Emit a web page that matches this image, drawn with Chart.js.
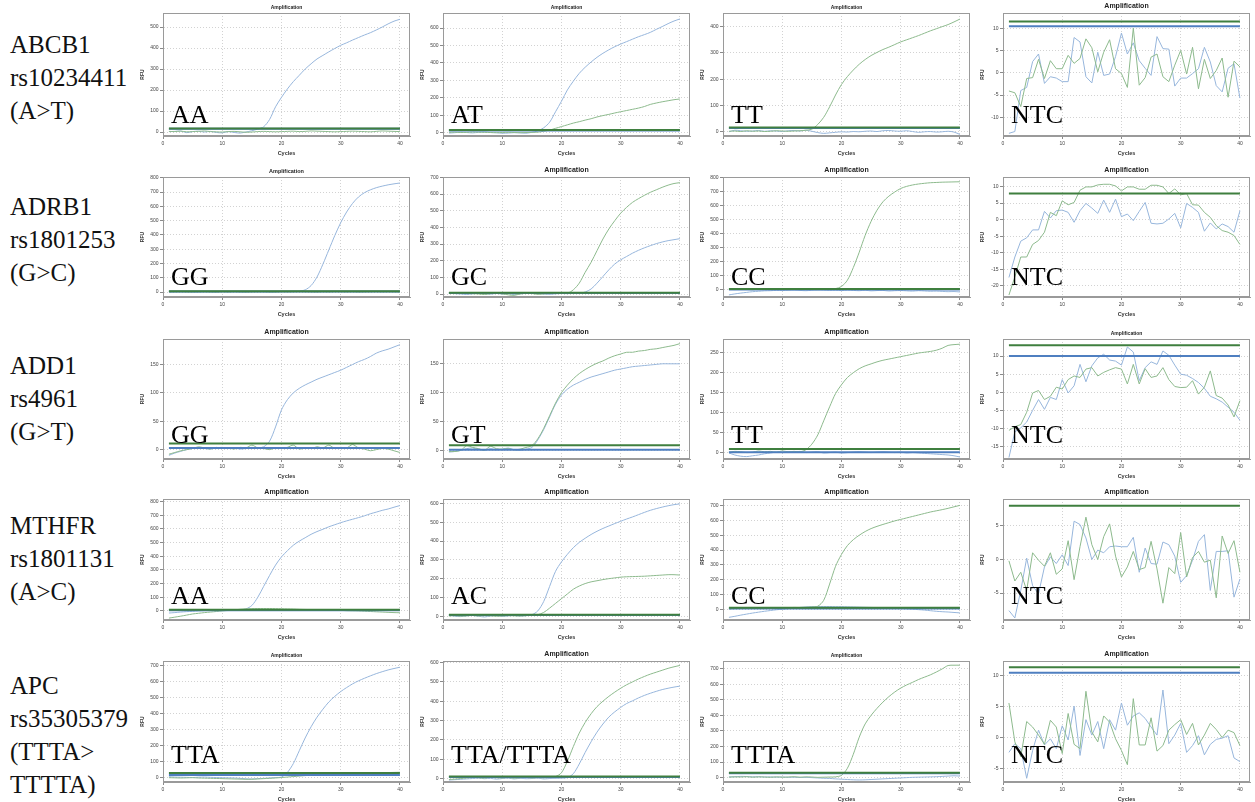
<!DOCTYPE html>
<html lang="en">
<head>
<meta charset="UTF-8">
<title>Amplification curves</title>
<script src="https://cdn.jsdelivr.net/npm/chart.js"></script>
<style>
  body {
    margin: 0;
    width: 1255px;
    height: 802px;
    position: relative;
    overflow: hidden;
    background: #fff;
  }
  canvas { position: absolute; }
  .gene {
    position: absolute;
    left: 10px;
    font-family: 'Liberation Serif', 'Times New Roman', serif;
    font-size: 25px;
    line-height: 33px;
    color: #111;
    white-space: nowrap;
  }
  .geno {
    position: absolute;
    font-family: 'Liberation Serif', 'Times New Roman', serif;
    font-size: 26px;
    line-height: 26px;
    color: #000;
    white-space: nowrap;
  }
</style>
</head>
<body>
<script>
// ---- data ----
const CYCLES = [1,2,3,4,5,6,7,8,9,10,11,12,13,14,15,16,17,18,19,20,21,22,23,24,25,26,27,28,29,30,31,32,33,34,35,36,37,38,39,40];
const X_TICKS = [0,10,20,30,40];

const GENES = [
  ['ABCB1', 'rs10234411', '(A>T)'],
  ['ADRB1', 'rs1801253', '(G>C)'],
  ['ADD1', 'rs4961', '(G>T)'],
  ['MTHFR', 'rs1801131', '(A>C)'],
  ['APC', 'rs35305379', '(TTTA>', 'TTTTA)']
];
const GENOTYPES = [
  'AA', 'AT', 'TT', 'NTC',
  'GG', 'GC', 'CC', 'NTC',
  'GG', 'GT', 'TT', 'NTC',
  'AA', 'AC', 'CC', 'NTC',
  'TTA', 'TTA/TTTA', 'TTTA', 'NTC'
];

// threshold lines (RFU), one per panel
const THRESHOLD_GREEN = [17, 15, 16, 11.5,  5, 8, 8, 7.9,  10.6, 9, 10, 13,  8, 10, 10, 8,  31, 10, 32, 11.4];
const THRESHOLD_BLUE  = [15, 13, 14, 10.45, 3, 6, 3, null, 3, 1, 2, 10,     5, 8, 5, null,  18, 8, 28, 10.5];

// y tick sets
const TICKS_400 = [0,100,200,300,400];
const TICKS_500 = [0,100,200,300,400,500];
const TICKS_600 = [0,100,200,300,400,500,600];
const TICKS_700 = [0,100,200,300,400,500,600,700];
const TICKS_800 = [0,100,200,300,400,500,600,700,800];
const TICKS_150 = [0,50,100,150];
const TICKS_250 = [0,50,100,150,200,250];
const TICKS_NTC_A = [-10,-5,0,5,10];
const TICKS_NTC_B = [-20,-15,-10,-5,0,5,10];
const TICKS_NTC_C = [-15,-10,-5,0,5,10];
const TICKS_NTC_D = [-5,0,5];
const TICKS_NTC_E = [-5,0,5,10];

// ABCB1
const abcb1AA_blue  = [2,3,5,-3,2,4,0,3,-2,-4,2,-2,-5,0,6,14,25,60,120,165,205,240,270,300,325,348,365,382,398,413,425,438,450,462,473,486,500,515,528,537];
const abcb1AA_green = [3,2,4,1,2,3,5,2,1,0,2,3,1,-1,0,2,3,2,1,2,3,4,2,3,5,4,3,2,1,2,3,4,3,2,1,3,5,4,3,2];
const abcb1AT_blue  = [-2,0,3,1,-1,2,4,1,0,-3,-2,0,-1,-3,2,10,28,60,120,180,245,295,340,375,405,432,455,475,493,508,522,536,550,562,575,592,608,625,640,652];
const abcb1AT_green = [2,3,1,2,4,3,2,1,0,1,2,1,0,1,2,3,8,15,25,35,45,55,63,72,80,90,98,105,113,120,127,134,141,150,162,170,177,183,189,193];
const abcb1TT_blue  = [0,6,4,2,3,5,2,4,3,1,4,5,3,6,2,-3,-6,-4,-2,0,-1,1,0,2,3,1,4,5,3,2,4,1,-2,0,1,-1,0,2,-1,-10];
const abcb1TT_green = [2,3,1,4,2,3,1,2,4,3,2,3,4,6,10,28,55,95,140,180,210,235,257,275,290,302,313,322,332,342,350,358,366,375,384,392,400,408,418,429];
const abcb1NTC_blue  = [-13.6,-13.2,-4.0,-3.3,2.5,4.2,-2.4,-0.9,-1.2,-2.0,-2.0,7.9,6.9,-0.9,-2.3,4.6,-0.6,-0.3,3.6,8.9,4.2,6.7,2.7,1.0,-0.6,8.1,5.4,5.3,-3.0,-1.2,-1.2,-0.2,0.9,5.7,2.4,-2.9,-4.3,1.0,2.0,-5.7];
const abcb1NTC_green = [-4.1,-4.5,-7.6,-1.3,-1.1,3.0,-1.3,2.7,0.9,0.9,3.9,2.1,3.2,7.6,5.6,0.2,4.6,7.4,0.9,-0.2,-3.3,10,-2.8,-1.1,3.5,4.2,-0.9,-2.0,1.7,5.0,-0.3,5.7,-3.6,3.0,-1.3,0.5,3.3,-5.5,2.6,1.3];

// ADRB1
const adrb1GG_blue  = [0,2,1,3,0,-1,2,1,0,3,1,2,0,1,3,2,1,0,2,3,4,5,5,15,45,105,195,295,395,485,560,620,665,695,715,730,741,750,757,763];
const adrb1GG_green = [2,1,3,0,1,3,2,1,0,2,1,3,2,0,1,2,3,1,0,2,1,2,3,2,1,0,2,1,3,2,1,2,0,1,2,3,1,2,1,0];
const adrb1GC_blue  = [8,2,0,-3,1,4,2,-1,3,0,2,-4,1,3,5,2,0,-2,1,3,2,4,4,12,30,65,105,145,180,205,225,245,262,277,290,302,312,320,326,332];
const adrb1GC_green = [5,4,6,3,2,0,-3,2,4,1,-5,-8,0,5,3,-2,1,3,6,8,5,25,65,130,190,260,330,390,440,485,520,550,572,592,610,625,640,653,663,668];
const adrb1CC_blue  = [-35,-28,-22,-17,-12,-9,-6,-5,-3,-4,-2,-1,-3,-5,-2,0,-1,-3,-2,-4,-1,-3,-5,-2,-6,-4,-3,-7,-5,-4,-6,-8,-5,-7,-9,-8,-10,-12,-11,-14];
const adrb1CC_green = [5,3,6,4,2,5,7,3,4,6,2,5,3,6,4,2,5,8,10,25,70,160,270,390,490,570,630,670,700,725,740,750,757,762,766,768,770,771,772,773];
const adrb1NTC_blue  = [-17.5,-11.3,-6.5,-5.5,-3.1,-3.1,2.5,0.5,2.7,2.9,2.2,-0.8,2.7,4.9,3.5,1.9,5.9,2.2,6.2,0.9,1.7,-0.3,2.5,5.2,-1.1,-1.3,-1.1,0.2,1.9,-2.5,4.9,3.7,2.2,-3.5,-1.0,-2.8,-1.3,-2.1,-3.8,2.7];
const adrb1NTC_green = [-22.8,-17.3,-11.3,-11.3,-7.5,-6.3,-3.8,2.2,1.2,5.7,4.5,5.2,8.9,9.9,9.9,10.5,10.7,10.7,10.2,8.7,9.9,9.9,9.2,9.2,10.4,10.4,9.9,7.9,9.3,7.5,7.9,4.5,4.4,2.2,0.7,-1.8,-3.3,-3.8,-4.8,-7.5];

// ADD1
const add1GG_blue  = [-10,-6,-3,0,2,3,2,1,3,4,2,3,1,2,4,3,5,15,40,70,88,100,108,114,119,124,128,132,136,140,145,150,155,159,164,170,174,177,181,185];
const add1GG_green = [-8,-5,-2,0,2,5,3,1,4,2,3,1,4,3,8,3,2,0,3,2,4,8,1,3,2,5,3,8,2,4,3,9,3,1,-2,0,2,1,-2,-5];
const add1GT_blue  = [-3,-2,0,3,4,2,0,3,1,2,4,1,0,2,5,18,36,58,80,96,106,113,118,123,127,130,133,136,139,141,143,145,146,147,148,149,150,150,150,150];
const add1GT_green = [-2,-2,0,8,5,3,0,7,3,2,3,1,2,5,8,20,38,60,82,100,113,124,133,140,146,151,155,160,164,167,170,170,172,173,175,176,178,180,182,185];
const add1TT_blue  = [0,-5,-8,-9,-7,-5,-2,0,2,1,3,2,4,1,2,3,0,1,2,0,1,2,3,2,1,2,3,2,1,2,0,1,0,-1,-2,-3,-4,-5,-7,-10];
const add1TT_green = [2,4,3,1,2,5,3,4,2,5,3,4,3,8,22,45,80,115,148,170,188,200,210,217,222,227,231,234,237,240,243,246,249,251,253,256,261,268,270,271];
const add1NTC_blue  = [-18,-10.9,-9.8,-8.2,-5,-2,-4.7,-1.4,-2,3.5,-0.2,1.8,7.7,2.9,7.3,9.5,10.5,8.9,8.6,7.5,12.5,11.1,3.2,6.8,8.4,7.7,11.4,10.2,7.5,5,4.7,3.8,2.7,1.1,-1.1,-1.8,-2.7,-4.1,-5.5,-7.7];
const add1NTC_green = [-10.5,-9.5,-8.9,-5.5,-0.2,0.5,-2,-1.1,1.4,0.9,3.5,4.5,4.1,6.4,6.8,4.5,5.5,6.2,6.8,6.4,2.3,7.7,2.3,6.5,4.1,4.5,6.8,3.5,1.6,1.3,1.4,3.2,-0.5,1.4,5.9,-0.9,-1.6,-3.5,-6.8,-2.3];

// MTHFR
const mthfrAA_blue  = [-15,-12,-8,-5,-3,0,2,3,4,4,3,5,8,15,40,100,180,260,335,395,440,480,510,535,560,580,597,615,630,645,658,670,682,695,710,722,735,745,758,770];
const mthfrAA_green = [-52,-45,-38,-30,-22,-17,-12,-8,-4,0,4,8,12,15,17,18,18,18,17,16,15,14,12,11,10,9,8,6,5,4,2,1,0,-2,-4,-6,-8,-10,-12,-13];
const mthfrAC_blue  = [8,2,0,4,6,2,-2,3,5,1,4,6,3,5,10,30,80,160,240,290,330,365,393,415,435,452,467,480,493,505,517,528,540,552,563,572,580,587,593,597];
const mthfrAC_green = [3,5,2,4,6,3,5,4,2,3,5,4,3,5,7,10,22,45,70,95,120,145,162,175,184,190,196,201,205,209,211,212,213,214,216,218,220,222,222,220];
const mthfrCC_blue  = [-55,-48,-40,-33,-26,-20,-14,-9,-4,0,4,8,12,15,17,18,18,18,17,17,16,15,14,13,12,11,10,9,7,5,3,0,-3,-6,-10,-14,-17,-19,-22,-25];
const mthfrCC_green = [2,4,6,5,7,8,9,10,9,11,10,12,11,12,14,20,60,170,290,370,430,470,500,525,545,560,573,585,597,607,617,627,637,647,657,665,673,682,692,702];
const mthfrNTC_blue  = [-7.6,-8.7,-4.6,0.2,-3.9,-5.1,-1.1,0.4,-0.6,0.7,-0.9,5.7,5.2,3.2,0,1.4,1.0,1.9,2.0,1.9,1.9,3.3,-1.9,1.7,-0.6,-0.7,2.6,2.2,0.5,-3.4,-2.4,-0.1,2.7,3.7,-4.6,1.2,1.2,1.3,-5.6,-2.9];
const mthfrNTC_green = [-0.2,-3.2,-1.9,-4.6,1.0,-0.1,-1.0,1.0,-2.2,-1.4,2.8,-3.0,1.9,6.3,2.2,0,3.4,5.3,0.5,-2.6,-1.1,1.2,-1.5,-1.2,2.7,-1.4,-6.5,-1.2,-2.1,4.0,-2.6,0.3,1.2,-0.4,-0.1,-5.7,3.5,0.9,2.8,-1.9];

// APC
const apcTTA_blue  = [8,6,5,4,3,5,6,4,3,2,1,0,-2,-5,-6,-4,-2,0,3,6,35,90,170,250,320,380,430,475,510,540,565,588,607,623,638,652,664,675,684,692];
const apcTTA_green = [2,1,0,1,2,0,-1,-2,-3,-4,-5,-6,-7,-8,-8,-6,-4,-2,0,3,6,9,12,15,17,19,21,23,25,26,27,28,29,30,31,32,33,34,35,36];
const apcHet_blue  = [-8,-6,-4,-2,0,2,-1,1,-3,0,2,-2,1,-1,0,2,-2,0,1,2,5,25,75,135,190,240,282,318,345,368,388,402,417,430,441,451,460,467,473,478];
const apcHet_green = [-5,-3,0,3,5,4,2,6,4,3,5,2,4,6,3,5,4,6,10,30,90,165,235,290,335,372,400,425,447,467,485,500,515,528,540,550,560,570,578,585];
const apcTTTA_blue  = [5,6,8,7,5,6,4,5,3,4,2,3,1,2,0,-2,-4,-5,-8,-10,-12,-14,-15,-14,-12,-10,-8,-6,-4,-2,0,2,3,4,5,6,8,10,12,10];
const apcTTTA_green = [3,5,4,6,3,5,4,2,5,3,4,6,3,5,4,2,3,4,5,15,60,150,260,345,400,445,485,520,550,575,595,612,630,645,660,678,698,720,722,722];
const apcNTC_blue  = [-2.4,-1.0,-1.8,-6.6,-2.1,1.2,-1.2,-0.2,-1.8,1.9,-0.4,5.1,-2.9,2.9,0.4,2.6,-1.8,2.9,1.2,5.6,2.0,3.5,4.0,3.1,1.7,0.4,7.7,-1.0,0.4,2.3,-2.4,-1.3,0.3,-2.8,-1.1,-0.3,-0.1,0.3,-3.3,-3.9];
const apcNTC_green = [5.6,-0.7,-3.1,2.6,1.7,0.4,-1.1,2.8,1.7,-2.6,3.9,-1.1,-1.8,7.5,0.9,-0.7,3.5,2.5,-0.2,-2.1,-4.4,6.3,-1.2,-1.2,3.2,-2.2,-1.3,1.2,2.1,2.9,0.5,2.3,-1.2,0.4,2.3,1.3,0,1.2,0.8,-1.3];

// ---- panel table: series + axis ranges, row by row ----
const PANELS = [
  { blue: abcb1AA_blue,  green: abcb1AA_green,  yMin: -19,   yMax: 567,  yTicks: TICKS_500,   titleSize: 5 },
  { blue: abcb1AT_blue,  green: abcb1AT_green,  yMin: -19,   yMax: 686,  yTicks: TICKS_600,   titleSize: 5 },
  { blue: abcb1TT_blue,  green: abcb1TT_green,  yMin: -16,   yMax: 452,  yTicks: TICKS_400,   titleSize: 5 },
  { blue: abcb1NTC_blue, green: abcb1NTC_green, yMin: -14.2, yMax: 13.4, yTicks: TICKS_NTC_A, titleSize: 7, ntc: true },

  { blue: adrb1GG_blue,  green: adrb1GG_green,  yMin: -35,   yMax: 805,  yTicks: TICKS_800,   titleSize: 5.5 },
  { blue: adrb1GC_blue,  green: adrb1GC_green,  yMin: -18,   yMax: 702,  yTicks: TICKS_700,   titleSize: 7 },
  { blue: adrb1CC_blue,  green: adrb1CC_green,  yMin: -50,   yMax: 807,  yTicks: TICKS_800,   titleSize: 7 },
  { blue: adrb1NTC_blue, green: adrb1NTC_green, yMin: -23.4, yMax: 12.9, yTicks: TICKS_NTC_B, titleSize: 7, ntc: true },

  { blue: add1GG_blue,   green: add1GG_green,   yMin: -16.5, yMax: 195,  yTicks: TICKS_150,   titleSize: 7 },
  { blue: add1GT_blue,   green: add1GT_green,   yMin: -15,   yMax: 193,  yTicks: TICKS_150,   titleSize: 7 },
  { blue: add1TT_blue,   green: add1TT_green,   yMin: -15,   yMax: 284,  yTicks: TICKS_250,   titleSize: 7 },
  { blue: add1NTC_blue,  green: add1NTC_green,  yMin: -18.4, yMax: 14.7, yTicks: TICKS_NTC_C, titleSize: 5, ntc: true },

  { blue: mthfrAA_blue,  green: mthfrAA_green,  yMin: -66,   yMax: 818,  yTicks: TICKS_800,   titleSize: 7 },
  { blue: mthfrAC_blue,  green: mthfrAC_green,  yMin: -18,   yMax: 623,  yTicks: TICKS_600,   titleSize: 7 },
  { blue: mthfrCC_blue,  green: mthfrCC_green,  yMin: -73,   yMax: 745,  yTicks: TICKS_700,   titleSize: 7 },
  { blue: mthfrNTC_blue, green: mthfrNTC_green, yMin: -9,    yMax: 9,    yTicks: TICKS_NTC_D, titleSize: 7, ntc: true },

  { blue: apcTTA_blue,   green: apcTTA_green,   yMin: -25,   yMax: 731,  yTicks: TICKS_700,   titleSize: 5 },
  { blue: apcHet_blue,   green: apcHet_green,   yMin: -18,   yMax: 608,  yTicks: TICKS_600,   titleSize: 7 },
  { blue: apcTTTA_blue,  green: apcTTTA_green,  yMin: -28,   yMax: 749,  yTicks: TICKS_700,   titleSize: 5 },
  { blue: apcNTC_blue,   green: apcNTC_green,   yMin: -7.2,  yMax: 12.4, yTicks: TICKS_NTC_E, titleSize: 7, ntc: true }
];

// ---- layout (pixels) ----
const PLOT_LEFT = [163, 443, 723, 1003];
const PLOT_TOP = [13, 177, 339, 499, 661];
const PLOT_BOTTOM = [136, 297, 459, 620, 782];
const GENO_TOP = [102, 264, 422, 583, 742];
const GENE_TOP = [28, 190, 349, 509, 669];
const Y_AXIS_W = 23, PLOT_W = 247, PAD_RIGHT = 10, TITLE_H = 13, X_AXIS_H = 22;
const X_MAX = 41.7;
const FONT = "'Liberation Sans', Arial, sans-serif";

const CURVE_BLUE = '#97b6dc';
const CURVE_GREEN = '#8dba8d';
const THR_GREEN = '#3f7f3f';
const THR_BLUE = '#4f7fc0';

// plot frame on all four sides
const framePlugin = {
  id: 'frame',
  beforeDatasetsDraw(chart) {
    const { ctx, chartArea: a } = chart;
    ctx.save();
    ctx.strokeStyle = '#9a9a9a';
    ctx.lineWidth = 1;
    ctx.strokeRect(a.left + 0.5, a.top + 0.5, a.right - a.left - 1, a.bottom - a.top - 1);
    ctx.restore();
  }
};

// gene / SNP labels on the left
GENES.forEach((lines, r) => {
  const div = document.createElement('div');
  div.className = 'gene';
  div.style.top = GENE_TOP[r] + 'px';
  div.textContent = lines.join('\n');
  div.style.whiteSpace = 'pre';
  document.body.appendChild(div);
});

PANELS.forEach((p, i) => {
  const r = Math.floor(i / 4), c = i % 4;
  const w = Y_AXIS_W + PLOT_W + PAD_RIGHT;
  const h = TITLE_H + (PLOT_BOTTOM[r] - PLOT_TOP[r]) + X_AXIS_H;

  const canvas = document.createElement('canvas');
  canvas.width = w;
  canvas.height = h;
  canvas.style.left = (PLOT_LEFT[c] - Y_AXIS_W) + 'px';
  canvas.style.top = (PLOT_TOP[r] - TITLE_H) + 'px';
  canvas.style.width = w + 'px';
  canvas.style.height = h + 'px';
  document.body.appendChild(canvas);

  const curve = (vals) => CYCLES.map((x, k) => ({ x: x, y: vals[k] }));
  const flat = (v) => [{ x: CYCLES[0], y: v }, { x: CYCLES[CYCLES.length - 1], y: v }];
  const tension = p.ntc ? 0 : 0.3;

  const datasets = [
    { data: flat(THRESHOLD_GREEN[i]), borderColor: THR_GREEN, borderWidth: 2, order: 0 },
    { data: curve(p.green), borderColor: CURVE_GREEN, borderWidth: 1, tension: tension, order: 2 },
    { data: curve(p.blue), borderColor: CURVE_BLUE, borderWidth: 1, tension: tension, order: 3 }
  ];
  if (THRESHOLD_BLUE[i] !== null) {
    datasets.push({ data: flat(THRESHOLD_BLUE[i]), borderColor: THR_BLUE, borderWidth: 2, order: 1 });
  }

  const bottomPad = 2.5;
  new Chart(canvas, {
    type: 'line',
    data: { datasets: datasets },
    options: {
      responsive: false,
      animation: false,
      devicePixelRatio: 1,
      layout: { padding: { left: 0, right: PAD_RIGHT, top: 0, bottom: 0 } },
      elements: { point: { radius: 0 } },
      plugins: {
        legend: { display: false },
        tooltip: { enabled: false },
        title: {
          display: true,
          text: 'Amplification',
          fullSize: false,
          color: '#222',
          font: { size: p.titleSize, weight: 'bold', family: FONT },
          padding: { top: TITLE_H - 1.2 * p.titleSize - bottomPad, bottom: bottomPad }
        }
      },
      scales: {
        x: {
          type: 'linear',
          min: 0,
          max: X_MAX,
          afterBuildTicks: (s) => { s.ticks = X_TICKS.map(v => ({ value: v })); },
          afterFit: (s) => { s.height = X_AXIS_H; },
          grid: { color: '#d2d2d2', tickLength: 3, tickColor: '#8a8a8a' },
          border: { color: '#9a9a9a', dash: [1, 2] },
          ticks: { font: { size: 5, family: FONT }, color: '#444', padding: 1.5, maxRotation: 0 },
          title: { display: true, text: 'Cycles', color: '#333', font: { size: 5.5, weight: 'bold', family: FONT }, padding: { top: 0, bottom: 1 } }
        },
        y: {
          type: 'linear',
          min: p.yMin,
          max: p.yMax,
          afterBuildTicks: (s) => { s.ticks = p.yTicks.map(v => ({ value: v })); },
          afterFit: (s) => { s.width = Y_AXIS_W; },
          grid: { color: '#d2d2d2', tickLength: 3, tickColor: '#8a8a8a' },
          border: { color: '#9a9a9a', dash: [1, 2] },
          ticks: { font: { size: 5, family: FONT }, color: '#444', padding: 1.5 },
          title: { display: true, text: 'RFU', color: '#333', font: { size: 5, weight: 'bold', family: FONT }, padding: 0 }
        }
      }
    },
    plugins: [framePlugin]
  });

  // genotype label over the plot
  const lab = document.createElement('div');
  lab.className = 'geno';
  lab.style.left = (PLOT_LEFT[c] + 8) + 'px';
  lab.style.top = GENO_TOP[r] + 'px';
  lab.textContent = GENOTYPES[i];
  document.body.appendChild(lab);
});
</script>
</body>
</html>
